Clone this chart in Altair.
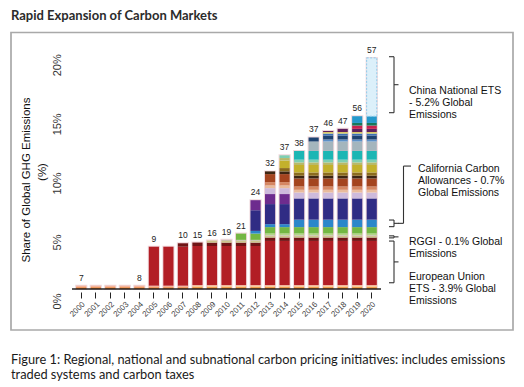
import altair as alt
import pandas as pd

# ---------------- data ----------------
title_text = "Rapid Expansion of Carbon Markets"
caption_text = ("Figure 1: Regional, national and subnational carbon pricing initiatives: includes emissions\n"
                "traded systems and carbon taxes")
y_title_lines = ["Share of Global  GHG Emissions", "(%)"]

years = ["2000", "2001", "2002", "2003", "2004", "2005", "2006", "2007", "2008", "2009", "2010",
         "2011", "2012", "2013", "2014", "2015", "2016", "2017", "2018", "2019", "2020"]
# number of initiatives printed above the bars (None = no label)
initiatives = [7, None, None, None, 8, 9, None, 10, 15, 16, 19, 21, 24, 32, 37, 38, 37, 46, 47, 56, 57]

# share of global GHG emissions (%) per initiative, 2000..2020, stacked bottom -> top
series_names = [
    "Initiative 01", "Initiative 02", "Initiative 03", "European Union ETS", "Initiative 05",
    "RGGI", "Initiative 07", "Initiative 08", "Initiative 09", "California Carbon Allowances",
    "Initiative 11", "Initiative 12", "Initiative 13", "Initiative 14", "Initiative 15",
    "Initiative 16", "Initiative 17", "Initiative 18", "Initiative 19", "Initiative 20",
    "Initiative 21", "Initiative 22", "Initiative 23", "Initiative 24", "Initiative 25",
    "Initiative 26", "Initiative 27", "Initiative 28", "Initiative 29", "Initiative 30",
    "Initiative 31", "China National ETS",
]
series_colors = [
    "#e8731d", "#f6cf45", "#f3b49b", "#b21e25", "#701516",
    "#cdc58c", "#b7b5a5", "#a3cf6e", "#73b743", "#2b87ca",
    "#302c84", "#6d2c8e", "#cdbadc", "#e9bb9c", "#d58662",
    "#a4441f", "#3d2613", "#8b6b1f", "#c3b12c", "#b9b96a",
    "#80cfb1", "#1cb6b4", "#a4b5bd", "#5c90c7", "#1f4371",
    "#3e70b6", "#f2e44d", "#5e1f5d", "#c9214f", "#18785b",
    "#2599cb", "#dcf0fa",
]
s01 = [0.15, 0.15, 0.15, 0.15, 0.15, 0.15, 0.15, 0.15, 0.15, 0.15, 0.15, 0.15, 0.15, 0.15, 0.15, 0.15, 0.15, 0.15, 0.15, 0.15, 0.15]
s02 = [0, 0, 0, 0, 0, 0, 0, 0, 0.06, 0.06, 0.06, 0.06, 0.06, 0.06, 0.06, 0.06, 0.06, 0.06, 0.06, 0.06, 0.06]
s03 = [0.13, 0.13, 0.13, 0.13, 0.13, 0.13, 0.13, 0.13, 0.13, 0.13, 0.13, 0.13, 0.13, 0.13, 0.13, 0.13, 0.13, 0.13, 0.13, 0.13, 0.13]
s04 = [0, 0, 0, 0, 0, 3.30, 3.30, 3.30, 3.30, 3.30, 3.30, 3.30, 3.30, 3.73, 3.73, 3.73, 3.73, 3.73, 3.73, 3.73, 3.73]
s05 = [0, 0, 0, 0, 0, 0, 0, 0.29, 0.29, 0.29, 0.29, 0.29, 0.29, 0.29, 0.29, 0.29, 0.29, 0.29, 0.29, 0.29, 0.29]
s06 = [0, 0, 0, 0, 0, 0, 0, 0, 0, 0.17, 0.17, 0.17, 0.17, 0.17, 0.17, 0.17, 0.17, 0.17, 0.17, 0.17, 0.17]
s07 = [0, 0, 0, 0, 0, 0, 0, 0, 0, 0, 0.06, 0.06, 0.06, 0.06, 0.06, 0.06, 0.06, 0.06, 0.06, 0.06, 0.06]
s08 = [0, 0, 0, 0, 0, 0, 0, 0, 0, 0, 0, 0, 0, 0.12, 0.12, 0.12, 0.12, 0.12, 0.12, 0.12, 0.12]
s09 = [0, 0, 0, 0, 0, 0, 0, 0, 0, 0, 0, 0.53, 0.53, 0.53, 0.53, 0.53, 0.53, 0.53, 0.53, 0.53, 0.53]
s10 = [0, 0, 0, 0, 0, 0, 0, 0, 0, 0, 0, 0, 0.23, 0.25, 0.25, 0.63, 0.63, 0.63, 0.63, 0.63, 0.63]
s11 = [0, 0, 0, 0, 0, 0, 0, 0, 0, 0, 0, 0, 1.75, 1.70, 1.70, 1.80, 1.80, 1.80, 1.80, 1.80, 1.80]
s12 = [0, 0, 0, 0, 0, 0, 0, 0, 0, 0, 0, 0, 0.85, 0.85, 0.85, 0, 0, 0, 0, 0, 0]
s13 = [0, 0, 0, 0, 0, 0, 0, 0, 0, 0, 0, 0, 0, 0.50, 0.50, 0.50, 0.50, 0.50, 0.50, 0.50, 0.50]
s14 = [0, 0, 0, 0, 0, 0, 0, 0, 0, 0, 0, 0, 0, 0.23, 0.23, 0.23, 0.23, 0.23, 0.23, 0.23, 0.23]
s15 = [0, 0, 0, 0, 0, 0, 0, 0, 0, 0, 0, 0, 0, 0.28, 0.28, 0.28, 0.28, 0.28, 0.28, 0.28, 0.28]
s16 = [0, 0, 0, 0, 0, 0, 0, 0, 0, 0, 0, 0, 0, 0.68, 0.68, 0.68, 0.68, 0.68, 0.68, 0.68, 0.68]
s17 = [0, 0, 0, 0, 0, 0, 0, 0, 0, 0, 0, 0, 0, 0.23, 0.23, 0.23, 0.23, 0.23, 0.23, 0.23, 0.23]
s18 = [0, 0, 0, 0, 0, 0, 0, 0, 0, 0, 0, 0, 0, 0, 0.28, 0.28, 0.28, 0.28, 0.28, 0.28, 0.28]
s19 = [0, 0, 0, 0, 0, 0, 0, 0, 0, 0, 0, 0, 0, 0, 0.63, 0.63, 0.63, 0.63, 0.63, 0.63, 0.63]
s20 = [0, 0, 0, 0, 0, 0, 0, 0, 0, 0, 0, 0, 0, 0, 0.22, 0.22, 0.22, 0.22, 0.22, 0.22, 0.22]
s21 = [0, 0, 0, 0, 0, 0, 0, 0, 0, 0, 0, 0, 0, 0, 0.23, 0.23, 0.23, 0.23, 0.23, 0.23, 0.23]
s22 = [0, 0, 0, 0, 0, 0, 0, 0, 0, 0, 0, 0, 0, 0, 0, 0.74, 0.74, 0.74, 0.74, 0.74, 0.74]
s23 = [0, 0, 0, 0, 0, 0, 0, 0, 0, 0, 0, 0, 0, 0, 0, 0, 0.80, 0.80, 0.80, 0.80, 0.80]
s24 = [0, 0, 0, 0, 0, 0, 0, 0, 0, 0, 0, 0, 0, 0, 0, 0, 0, 0.17, 0.17, 0.17, 0.17]
s25 = [0, 0, 0, 0, 0, 0, 0, 0, 0, 0, 0, 0, 0, 0, 0, 0, 0.34, 0.34, 0.34, 0.34, 0.34]
s26 = [0, 0, 0, 0, 0, 0, 0, 0, 0, 0, 0, 0, 0, 0, 0, 0, 0, 0.17, 0.17, 0.17, 0.17]
s27 = [0, 0, 0, 0, 0, 0, 0, 0, 0, 0, 0, 0, 0, 0, 0, 0, 0, 0.11, 0.11, 0.11, 0.11]
s28 = [0, 0, 0, 0, 0, 0, 0, 0, 0, 0, 0, 0, 0, 0, 0, 0, 0, 0.10, 0.28, 0.28, 0.28]
s29 = [0, 0, 0, 0, 0, 0, 0, 0, 0, 0, 0, 0, 0, 0, 0, 0, 0, 0, 0, 0.28, 0.28]
s30 = [0, 0, 0, 0, 0, 0, 0, 0, 0, 0, 0, 0, 0, 0, 0, 0, 0, 0, 0, 0.22, 0.22]
s31 = [0, 0, 0, 0, 0, 0, 0, 0, 0, 0, 0, 0, 0, 0, 0, 0, 0, 0, 0, 0.57, 0.57]
s32 = [0, 0, 0, 0, 0, 0, 0, 0, 0, 0, 0, 0, 0, 0, 0, 0, 0, 0, 0, 0, 4.94]
series_values = [s01, s02, s03, s04, s05, s06, s07, s08, s09, s10, s11, s12, s13, s14, s15, s16,
                 s17, s18, s19, s20, s21, s22, s23, s24, s25, s26, s27, s28, s29, s30, s31, s32]

# annotation brackets (in % of global emissions)
bracket_names = ["China National ETS", "California Carbon Allowances", "RGGI", "European Union ETS"]
bracket_low = [14.93, 5.28, 4.33, 0.53]
bracket_high = [19.67, 5.84, 4.50, 4.06]
note_texts = ["China National ETS\n- 5.2% Global\nEmissions",
              "California Carbon\nAllowances - 0.7%\nGlobal Emissions",
              "RGGI -  0.1% Global\nEmissions",
              "European Union\nETS - 3.9% Global\nEmissions"]
note_at = [16.77, 10.14, 3.99, 1.05]
california_leader_top = 10.41

# ---------------- tables ----------------
rows = []
for k, (name, vals) in enumerate(zip(series_names, series_values)):
    assert len(vals) == len(years)
    for yr, v in zip(years, vals):
        if v > 0:
            rows.append({"year": yr, "series": name, "value": v, "k": k})
seg_df = pd.DataFrame(rows)

tot = seg_df.groupby("year")["value"].sum()
year_df = pd.DataFrame({"year": years, "total": [float(tot[y]) for y in years], "count": initiatives})
count_df = year_df.dropna(subset=["count"]).copy()
count_df["count"] = count_df["count"].astype(int)

br_df = pd.DataFrame({"name": bracket_names, "lo": bracket_low, "hi": bracket_high,
                      "note": note_texts, "at": note_at})
lead_df = pd.DataFrame({"name": ["California Carbon Allowances"],
                        "lo": [bracket_low[1]], "hi": [bracket_high[1]],
                        "top": [california_leader_top]})

# ---------------- chart ----------------
W, H = 305, 248
FONT = "Liberation Sans"
y_scale = alt.Scale(domain=[0, 21], nice=False)
x_sort = years

x_axis = alt.Axis(title=None, labelAngle=315, labelAlign="right", labelBaseline="top",
                  labelFont=FONT, labelFontSize=8, labelColor="#444", labelPadding=2,
                  tickColor="#222", tickSize=6, tickWidth=1, domain=False, grid=False,
                  offset=3)
y_axis = alt.Axis(values=[0, 5, 10, 15, 20], labelExpr="datum.value + '%'",
                  labelAngle=270, labelAlign="center", labelBaseline="middle",
                  labelPadding=17, labelOffset=12, ticks=False, tickSize=0,
                  domain=False, grid=False, labelFont=FONT, labelFontSize=11,
                  labelColor="#333", title=None)

one = alt.Data(values=[{}])

frame = alt.Chart(one).mark_rect(fill="transparent", stroke="#a9a9a9", strokeWidth=1.7).encode(
    x=alt.value(-63), x2=alt.value(439), y=alt.value(-8.5), y2=alt.value(289))

halo = alt.Chart(year_df).mark_bar(fill="transparent", stroke="#f1d8dc", strokeWidth=2).encode(
    x=alt.X("year:O", sort=x_sort, scale=alt.Scale(paddingInner=0.3, paddingOuter=0.15), axis=x_axis),
    y=alt.Y("total:Q", scale=y_scale, axis=y_axis))

china = "China National ETS"
bars = alt.Chart(seg_df).mark_bar().encode(
    x=alt.X("year:O", sort=x_sort, axis=x_axis),
    y=alt.Y("value:Q", stack="zero", scale=y_scale, axis=y_axis),
    color=alt.Color("series:N", scale=alt.Scale(domain=series_names, range=series_colors), legend=None),
    order=alt.Order("k:Q", sort="ascending"),
    stroke=alt.condition(alt.datum.series == china, alt.value("#8ecbeb"), alt.value("transparent")),
    strokeDash=alt.condition(alt.datum.series == china, alt.value([2, 1.5]), alt.value([1, 0])),
    strokeWidth=alt.condition(alt.datum.series == china, alt.value(1), alt.value(0)),
)

baseline = alt.Chart(one).mark_rule(color="#222", strokeWidth=1.3).encode(
    x=alt.value(-2), x2=alt.value(W + 2), y=alt.YDatum(0))

numbers = alt.Chart(count_df).mark_text(baseline="bottom", dy=-3, font=FONT, fontSize=8.5,
                                        color="#222").encode(
    x=alt.X("year:O", sort=x_sort),
    y=alt.Y("total:Q"),
    text="count:Q")

BR = "#333"
vert = alt.Chart(br_df).mark_rule(color=BR, strokeWidth=1.1).encode(
    x=alt.value(320), y=alt.Y("lo:Q"), y2="hi:Q")
hook_top = alt.Chart(br_df).mark_rule(color=BR, strokeWidth=1.1).encode(
    x=alt.value(315), x2=alt.value(320), y=alt.Y("hi:Q"))
hook_bot = alt.Chart(br_df).mark_rule(color=BR, strokeWidth=1.1).encode(
    x=alt.value(315), x2=alt.value(320), y=alt.Y("lo:Q"))
mid_tick = alt.Chart(br_df).transform_calculate(mid="(datum.lo + datum.hi) / 2").mark_rule(
    color=BR, strokeWidth=1.1).encode(
    x=alt.value(320), x2=alt.value(324.5), y=alt.Y("mid:Q"))

lead_h = alt.Chart(lead_df).transform_calculate(mid="(datum.lo + datum.hi) / 2").mark_rule(
    color=BR, strokeWidth=1.1).encode(
    x=alt.value(324), x2=alt.value(329.5), y=alt.Y("mid:Q"))
lead_v = alt.Chart(lead_df).transform_calculate(mid="(datum.lo + datum.hi) / 2").mark_rule(
    color=BR, strokeWidth=1.1).encode(
    x=alt.value(329.5), y=alt.Y("mid:Q"), y2="top:Q")
lead_t = alt.Chart(lead_df).mark_rule(color=BR, strokeWidth=1.1).encode(
    x=alt.value(329.5), x2=alt.value(337), y=alt.Y("top:Q"))

notes_a = alt.Chart(br_df).transform_filter(alt.datum.name != "California Carbon Allowances").mark_text(
    align="left", baseline="middle", font=FONT, fontSize=10.5, lineHeight=12, lineBreak="\n",
    color="#111").encode(x=alt.value(335), y=alt.Y("at:Q"), text="note:N")
notes_b = alt.Chart(br_df).transform_filter(alt.datum.name == "California Carbon Allowances").mark_text(
    align="left", baseline="middle", font=FONT, fontSize=10.5, lineHeight=12, lineBreak="\n",
    color="#111").encode(x=alt.value(344), y=alt.Y("at:Q"), text="note:N")

ytitle1 = alt.Chart(alt.Data(values=[{"t": y_title_lines[0]}])).mark_text(
    align="center", baseline="middle", angle=270, font=FONT, fontSize=11.5,
    color="#111").encode(x=alt.value(-47), y=alt.value(139), text="t:N")
ytitle2 = alt.Chart(alt.Data(values=[{"t": y_title_lines[1]}])).mark_text(
    align="center", baseline="middle", angle=270, font=FONT, fontSize=11.5,
    color="#111").encode(x=alt.value(-31), y=alt.value(131), text="t:N")

heading = alt.Chart(alt.Data(values=[{"t": title_text}])).mark_text(
    align="left", baseline="middle", font="Lato", fontWeight="bold", fontSize=13,
    color="#2b2b2b").encode(x=alt.value(-63), y=alt.value(-25), text="t:N")
caption = alt.Chart(alt.Data(values=[{"t": caption_text}])).mark_text(
    align="left", baseline="middle", font="Lato", fontSize=12.8, lineHeight=15, lineBreak="\n",
    color="#1a1a1a").encode(x=alt.value(-63), y=alt.value(318.5), text="t:N")

chart = alt.layer(
    frame, halo, bars, baseline, numbers,
    vert, hook_top, hook_bot, mid_tick, lead_h, lead_v, lead_t,
    notes_a, notes_b, ytitle1, ytitle2, heading, caption,
).properties(
    width=W, height=H,
    autosize=alt.AutoSizeParams(type="none"),
    padding={"left": 66, "top": 33, "right": 137, "bottom": 94},
).configure_view(strokeWidth=0)

chart.save("out.html", embed_options={"renderer": "svg", "actions": False})
